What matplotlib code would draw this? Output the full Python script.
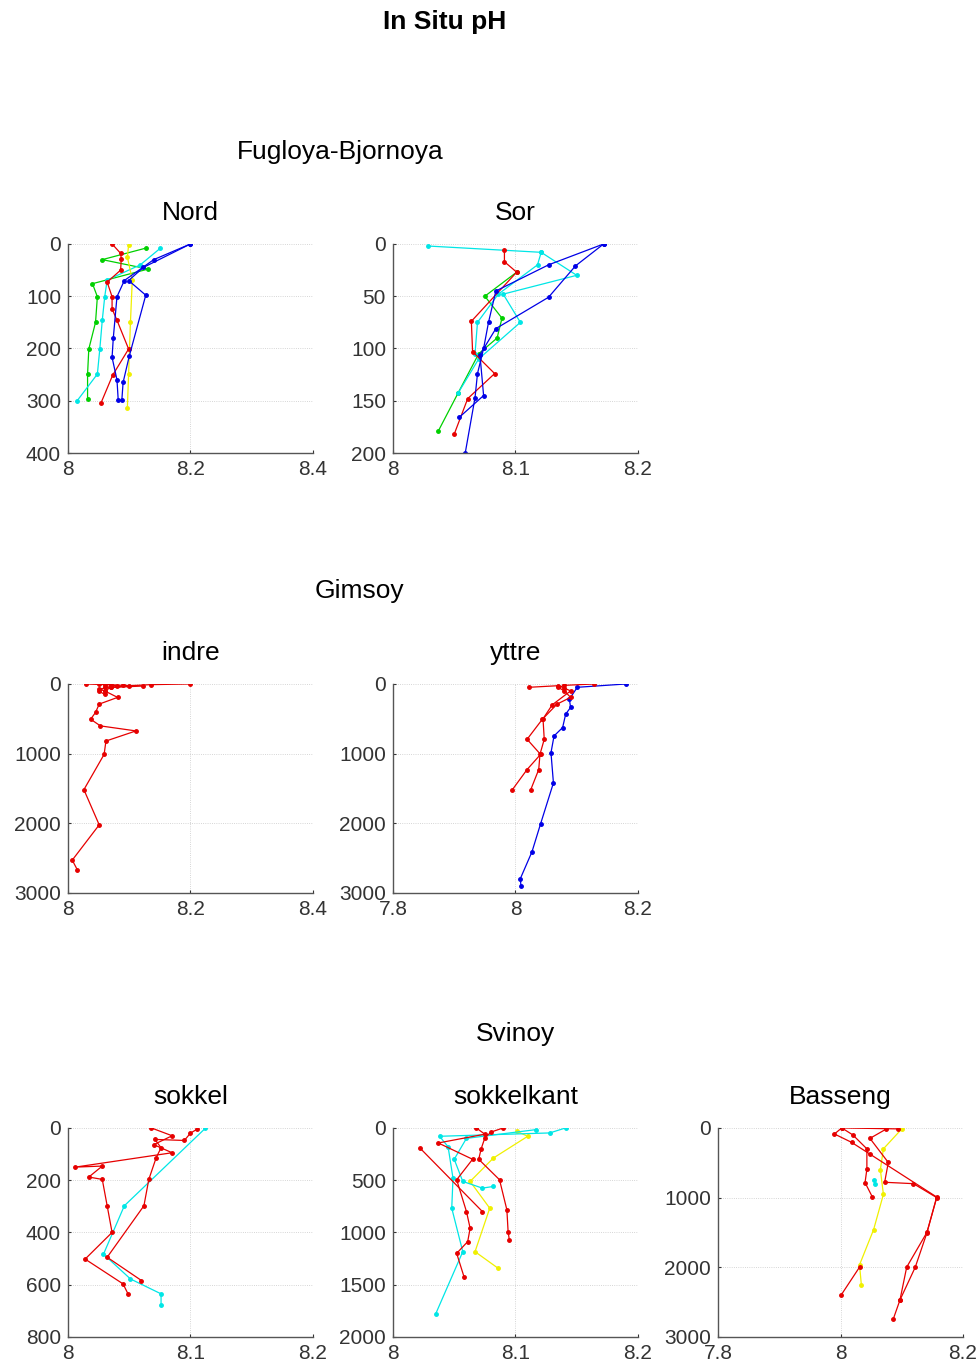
import matplotlib.pyplot as plt

plt.rcParams['font.family'] = ['Liberation Sans', 'DejaVu Sans']

# ---- Fugloya-Bjornoya, Nord ----
nord_b1_z = [0, 45, 70, 98, 215, 265, 298]
nord_b1_ph = [8.200, 8.123, 8.099, 8.127, 8.100, 8.090, 8.088]
nord_b2_z = [0, 30, 70, 101, 180, 217, 260, 298]
nord_b2_ph = [8.200, 8.140, 8.092, 8.080, 8.074, 8.072, 8.080, 8.082]
nord_r_z = [0, 18, 28, 50, 73, 101, 124, 146, 201, 251, 304]
nord_r_ph = [8.072, 8.086, 8.087, 8.086, 8.064, 8.072, 8.072, 8.080, 8.099, 8.073, 8.054]
nord_g_z = [8, 30, 48, 76, 101, 150, 201, 249, 297]
nord_g_ph = [8.127, 8.056, 8.131, 8.040, 8.048, 8.045, 8.034, 8.032, 8.032]
nord_c_z = [8, 40, 69, 101, 146, 201, 249, 300]
nord_c_ph = [8.151, 8.118, 8.064, 8.060, 8.056, 8.052, 8.048, 8.015]
nord_y_z = [2, 25, 69, 150, 249, 313]
nord_y_ph = [8.099, 8.097, 8.105, 8.102, 8.099, 8.097]

# ---- Fugloya-Bjornoya, Sor ----
sor_b1_z = [0, 20, 45, 75, 100, 124, 147, 200]
sor_b1_ph = [8.172, 8.127, 8.084, 8.078, 8.074, 8.069, 8.067, 8.059]
sor_b2_z = [0, 21, 51, 81, 106, 145, 166]
sor_b2_ph = [8.172, 8.149, 8.127, 8.084, 8.071, 8.074, 8.054]
sor_c1_z = [2, 8, 30, 48, 75, 110, 143]
sor_c1_ph = [8.029, 8.121, 8.150, 8.090, 8.104, 8.070, 8.053]
sor_c2_z = [8, 20, 48, 75, 105]
sor_c2_ph = [8.121, 8.118, 8.086, 8.069, 8.067]
sor_r_z = [6, 17, 27, 74, 103, 124, 148, 182]
sor_r_ph = [8.091, 8.091, 8.101, 8.064, 8.065, 8.083, 8.061, 8.050]
sor_g_z = [27, 50, 71, 90, 105, 143, 179]
sor_g_ph = [8.101, 8.075, 8.089, 8.085, 8.070, 8.053, 8.037]

# ---- Gimsoy, indre ----
indre_r1_z = [0, 10, 25, 50, 100, 193, 289, 409, 506, 602, 674, 819, 1011, 1517, 2022, 2528, 2663]
indre_r1_ph = [8.200, 8.135, 8.100, 8.070, 8.060, 8.081, 8.051, 8.045, 8.037, 8.053, 8.111,
               8.062, 8.059, 8.026, 8.051, 8.007, 8.015]
indre_r2_z = [0, 10, 20, 30, 50, 75, 100]
indre_r2_ph = [8.030, 8.060, 8.090, 8.122, 8.070, 8.050, 8.060]
indre_r3_z = [0, 10, 25, 50, 100, 150]
indre_r3_ph = [8.050, 8.070, 8.080, 8.060, 8.050, 8.060]

# ---- Gimsoy, yttre ----
yttre_b_z = [0, 48, 217, 337, 433, 626, 746, 987, 1420, 2008, 2408, 2793, 2904]
yttre_b_ph = [8.181, 8.101, 8.088, 8.090, 8.082, 8.077, 8.063, 8.058, 8.062, 8.041, 8.027, 8.008, 8.009]
yttre_r1_z = [0, 20, 50, 100, 193, 289, 506, 794, 1011, 1228, 1517]
yttre_r1_ph = [8.129, 8.080, 8.070, 8.080, 8.090, 8.068, 8.044, 8.019, 8.041, 8.019, 7.995]
yttre_r2_z = [48, 25, 60, 100, 300, 500, 794, 1011, 1228, 1517]
yttre_r2_ph = [8.022, 8.070, 8.080, 8.090, 8.060, 8.045, 8.047, 8.040, 8.038, 8.025]

# ---- Svinoy, sokkel ----
sokkel_r1_z = [0, 30, 64, 95, 150, 146, 188, 197, 298, 400, 502, 597, 635]
sokkel_r1_ph = [8.068, 8.085, 8.070, 8.085, 8.006, 8.028, 8.017, 8.028, 8.032, 8.036, 8.014, 8.045, 8.049]
sokkel_r2_z = [6, 20, 48, 44, 76, 114, 197, 298, 495, 584]
sokkel_r2_ph = [8.105, 8.100, 8.095, 8.071, 8.076, 8.072, 8.066, 8.062, 8.032, 8.060]
sokkel_c_z = [2, 298, 483, 578, 635, 679]
sokkel_c_ph = [8.112, 8.046, 8.029, 8.051, 8.076, 8.076]

# ---- Svinoy, sokkelkant ----
kant_r1_z = [0, 40, 96, 200, 300, 496, 784, 992, 1072]
kant_r1_ph = [8.090, 8.080, 8.075, 8.072, 8.070, 8.087, 8.093, 8.094, 8.095]
kant_r2_z = [0, 60, 144, 300, 496, 800, 960, 1088, 1200, 1424]
kant_r2_ph = [8.068, 8.075, 8.037, 8.065, 8.052, 8.060, 8.063, 8.061, 8.052, 8.058]
kant_r3_z = [192, 800]
kant_r3_ph = [8.022, 8.073]
kant_c1_z = [0, 48, 80, 180, 480, 768, 1184, 1776]
kant_c1_ph = [8.141, 8.128, 8.038, 8.045, 8.049, 8.048, 8.057, 8.035]
kant_c2_z = [16, 100, 300, 512, 576, 560]
kant_c2_ph = [8.117, 8.060, 8.050, 8.057, 8.073, 8.082]
kant_y_z = [32, 80, 288, 512, 768, 1184, 1344]
kant_y_ph = [8.101, 8.110, 8.082, 8.063, 8.079, 8.067, 8.086]

# ---- Svinoy, Basseng ----
bass_r1_z = [14, 0, 87, 207, 376, 992, 1507, 1998, 2470, 2745]
bass_r1_ph = [8.094, 8.002, 7.990, 8.018, 8.048, 8.157, 8.141, 8.122, 8.097, 8.086]
bass_r2_z = [0, 100, 300, 592, 785, 992]
bass_r2_ph = [8.002, 8.020, 8.043, 8.043, 8.040, 8.052]
bass_r3_z = [14, 150, 496, 780, 800, 1000, 1500, 1998, 2470]
bass_r3_ph = [8.075, 8.048, 8.078, 8.072, 8.119, 8.157, 8.141, 8.108, 8.097]
bass_r4_z = [1998, 2398]
bass_r4_ph = [8.031, 8.001]
bass_y_z = [14, 300, 600, 953, 1459, 1965, 2254]
bass_y_ph = [8.100, 8.070, 8.065, 8.070, 8.054, 8.031, 8.034]
bass_c_z = [750, 800]
bass_c_ph = [8.055, 8.056]

C = {'b': '#0000e6', 'r': '#e60000', 'g': '#00d000', 'c': '#00e6e6', 'y': '#f0f000'}

panels = [
    ('Nord', [0.0695, 0.6691], (8, 8.4), [8, 8.2, 8.4], (0, 400), [0, 100, 200, 300, 400],
     [('g', nord_g_ph, nord_g_z), ('c', nord_c_ph, nord_c_z), ('y', nord_y_ph, nord_y_z),
      ('r', nord_r_ph, nord_r_z), ('b', nord_b1_ph, nord_b1_z), ('b', nord_b2_ph, nord_b2_z)]),
    ('Sor', [0.4018, 0.6691], (8, 8.2), [8, 8.1, 8.2], (0, 200), [0, 50, 100, 150, 200],
     [('g', sor_g_ph, sor_g_z), ('c', sor_c1_ph, sor_c1_z), ('c', sor_c2_ph, sor_c2_z),
      ('r', sor_r_ph, sor_r_z), ('b', sor_b1_ph, sor_b1_z), ('b', sor_b2_ph, sor_b2_z)]),
    ('indre', [0.0695, 0.3477], (8, 8.4), [8, 8.2, 8.4], (0, 3000), [0, 1000, 2000, 3000],
     [('r', indre_r1_ph, indre_r1_z), ('r', indre_r2_ph, indre_r2_z), ('r', indre_r3_ph, indre_r3_z)]),
    ('yttre', [0.4018, 0.3477], (7.8, 8.2), [7.8, 8, 8.2], (0, 3000), [0, 1000, 2000, 3000],
     [('b', yttre_b_ph, yttre_b_z), ('r', yttre_r1_ph, yttre_r1_z), ('r', yttre_r2_ph, yttre_r2_z)]),
    ('sokkel', [0.0695, 0.0234], (8, 8.2), [8, 8.1, 8.2], (0, 800), [0, 200, 400, 600, 800],
     [('c', sokkel_c_ph, sokkel_c_z), ('r', sokkel_r1_ph, sokkel_r1_z), ('r', sokkel_r2_ph, sokkel_r2_z)]),
    ('sokkelkant', [0.4018, 0.0234], (8, 8.2), [8, 8.1, 8.2], (0, 2000), [0, 500, 1000, 1500, 2000],
     [('y', kant_y_ph, kant_y_z), ('c', kant_c1_ph, kant_c1_z), ('c', kant_c2_ph, kant_c2_z),
      ('r', kant_r1_ph, kant_r1_z), ('r', kant_r2_ph, kant_r2_z), ('r', kant_r3_ph, kant_r3_z)]),
    ('Basseng', [0.7342, 0.0234], (7.8, 8.2), [7.8, 8, 8.2], (0, 3000), [0, 1000, 2000, 3000],
     [('y', bass_y_ph, bass_y_z), ('c', bass_c_ph, bass_c_z), ('r', bass_r1_ph, bass_r1_z),
      ('r', bass_r2_ph, bass_r2_z), ('r', bass_r3_ph, bass_r3_z), ('r', bass_r4_ph, bass_r4_z)]),
]

fig = plt.figure(figsize=(9.78, 13.69), dpi=100)

for title, (x0, y0), xlim, xt, ylim, yt, series in panels:
    ax = fig.add_axes([x0, y0, 0.2505, 0.1527])
    for col, ph, z in series:
        ax.plot(ph, z, '-', color=C[col], lw=0.9, marker='.', ms=5)
    ax.set_xlim(*xlim)
    ax.set_ylim(ylim[1], ylim[0])
    ax.set_xticks(xt)
    ax.set_xticklabels(['%g' % v for v in xt])
    ax.set_yticks(yt)
    ax.set_yticklabels(['%g' % v for v in yt])
    ax.grid(True, color='#c8c8c8', lw=0.6, ls=':')
    ax.tick_params(labelsize=15, length=2, direction='in', colors='#333333', pad=5)
    for s in ['top', 'right']:
        ax.spines[s].set_visible(False)
    for s in ['left', 'bottom']:
        ax.spines[s].set_color('#555555')
        ax.spines[s].set_linewidth(1.0)
    ax.set_title(title, fontsize=19, pad=17)

fig.text(0.455, 0.984, 'In Situ pH', ha='center', va='center', fontsize=19, fontweight='bold')
fig.text(0.348, 0.889, 'Fugloya-Bjornoya', ha='center', va='center', fontsize=19)
fig.text(0.368, 0.568, 'Gimsoy', ha='center', va='center', fontsize=19)
fig.text(0.527, 0.245, 'Svinoy', ha='center', va='center', fontsize=19)

fig.savefig('out.png', dpi=100)
